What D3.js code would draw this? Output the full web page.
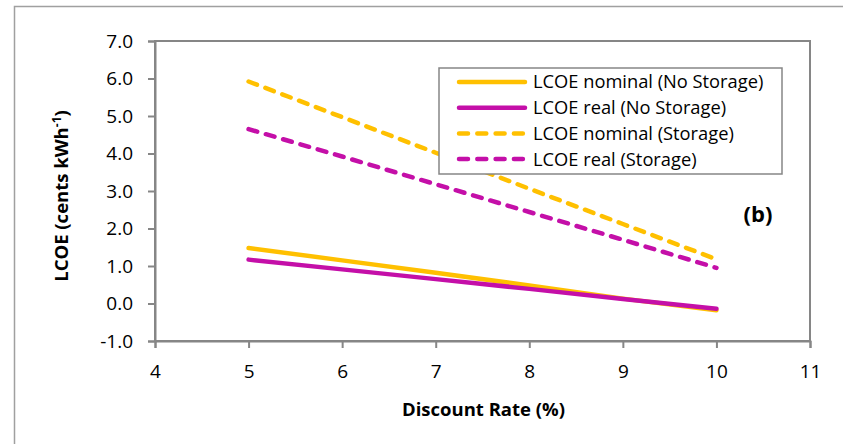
<!DOCTYPE html>
<html>
<head>
    <meta charset="utf-8">
    <style>
        body { margin: 0; background: #fff; }
        svg { display: block; }
        .tick text { font-family: 'Open Sans', sans-serif; font-size: 19px; fill: #000; }
        .title { font-family: 'Open Sans', sans-serif; font-weight: bold; font-size: 18.5px; }
        .legend text { font-family: 'Open Sans', sans-serif; font-size: 18.3px; }
    </style>
</head>
<body>
<svg width="843" height="444"></svg>

<script src="https://d3js.org/d3.v7.min.js"></script>
<script>
    // discount rate (%) on x
    const rates = [5, 6, 7, 8, 9, 10];
    // LCOE values, cents per kWh
    const nominalNoStorage = [1.48, 1.15, 0.82, 0.48, 0.13, -0.18];
    const realNoStorage = [1.17, 0.91, 0.65, 0.39, 0.12, -0.14];
    const nominalStorage = [5.92, 4.97, 4.02, 3.06, 2.12, 1.18];
    const realStorage = [4.65, 3.92, 3.18, 2.44, 1.70, 0.95];

    const seriesNames = ["LCOE nominal (No Storage)", "LCOE real (No Storage)",
        "LCOE nominal (Storage)", "LCOE real (Storage)"];
    const seriesValues = [nominalNoStorage, realNoStorage, nominalStorage, realStorage];
    const xTicks = [4, 5, 6, 7, 8, 9, 10, 11];
    const yTicks = [-1, 0, 1, 2, 3, 4, 5, 6, 7];

    const orange = "#ffc000", magenta = "#c40fa8";
    const colors = [orange, magenta, orange, magenta];
    const dashed = [false, false, true, true];

    let margin = { top: 41, left: 155, right: 33, bottom: 103 };
    let width = 843 - margin.left - margin.right;
    let height = 444 - margin.top - margin.bottom;

    let svg = d3.select("svg");

    // outer chart frame, runs off the right and bottom
    svg.append("rect")
        .attr("x", 14.5).attr("y", 6.5)
        .attr("width", 900).attr("height", 500)
        .style("fill", "none")
        .style("stroke", "#a0a0a0")
        .style("stroke-width", 1.5);

    let g = svg.append("g")
        .attr("transform", `translate(${margin.left},${margin.top})`);

    let x = d3.scaleLinear().domain([4, 11]).range([0, width]);
    let y = d3.scaleLinear().domain([-1, 7]).range([height, 0]);

    // plot area border
    g.append("rect")
        .attr("width", width).attr("height", height)
        .style("fill", "none")
        .style("stroke", "#868686")
        .style("stroke-width", 2);

    let xAxis = g.append("g")
        .attr("transform", `translate(0,${height})`)
        .call(d3.axisBottom(x).tickValues(xTicks).tickSize(7).tickPadding(17).tickFormat(d3.format("d")));

    let yAxis = g.append("g")
        .call(d3.axisLeft(y).tickValues(yTicks).tickSize(7).tickPadding(15).tickFormat(d3.format(".1f")));

    [xAxis, yAxis].forEach(a => {
        a.select(".domain").style("stroke", "#868686").style("stroke-width", 2);
        a.selectAll(".tick line").style("stroke", "#868686").style("stroke-width", 2);
    });
    // use a normal hyphen for negative tick label
    yAxis.selectAll(".tick text").text(d => d3.format(".1f")(d).replace("−", "-"));

    let line = d3.line()
        .x((d, i) => x(rates[i]))
        .y(d => y(d));

    seriesValues.forEach((vals, i) => {
        g.append("path")
            .datum(vals)
            .attr("d", line)
            .style("fill", "none")
            .style("stroke", colors[i])
            .style("stroke-width", 4.5)
            .style("stroke-linecap", "round")
            .style("stroke-dasharray", dashed[i] ? "9,9" : null);
    });

    // legend
    let legend = svg.append("g").attr("class", "legend");
    legend.append("rect")
        .attr("x", 439).attr("y", 68)
        .attr("width", 343).attr("height", 106)
        .style("fill", "#fff")
        .style("stroke", "#868686")
        .style("stroke-width", 1.5);

    seriesNames.forEach((name, i) => {
        let ly = 82 + i * 25.7;
        legend.append("line")
            .attr("x1", 459).attr("x2", 525)
            .attr("y1", ly).attr("y2", ly)
            .style("stroke", colors[i])
            .style("stroke-width", 4.5)
            .style("stroke-linecap", "round")
            .style("stroke-dasharray", dashed[i] ? "9,9.3" : null);
        legend.append("text")
            .attr("x", 533).attr("y", ly)
            .attr("dy", "0.35em")
            .text(name);
    });

    // axis titles
    svg.append("text")
        .attr("class", "title")
        .attr("x", margin.left + width / 2 + 1)
        .attr("y", 416)
        .attr("text-anchor", "middle")
        .text("Discount Rate (%)");

    let yt = svg.append("text")
        .attr("class", "title")
        .attr("text-anchor", "middle")
        .attr("transform", "translate(68,196) rotate(-90)");
    yt.append("tspan").text("LCOE (cents kWh");
    yt.append("tspan").attr("dy", -7).style("font-size", "12px").text("-1");
    yt.append("tspan").attr("dy", 7).text(")");

    svg.append("text")
        .attr("class", "title")
        .attr("x", 758).attr("y", 222)
        .attr("text-anchor", "middle")
        .style("font-size", "22px")
        .text("(b)");
</script>
</body>
</html>
